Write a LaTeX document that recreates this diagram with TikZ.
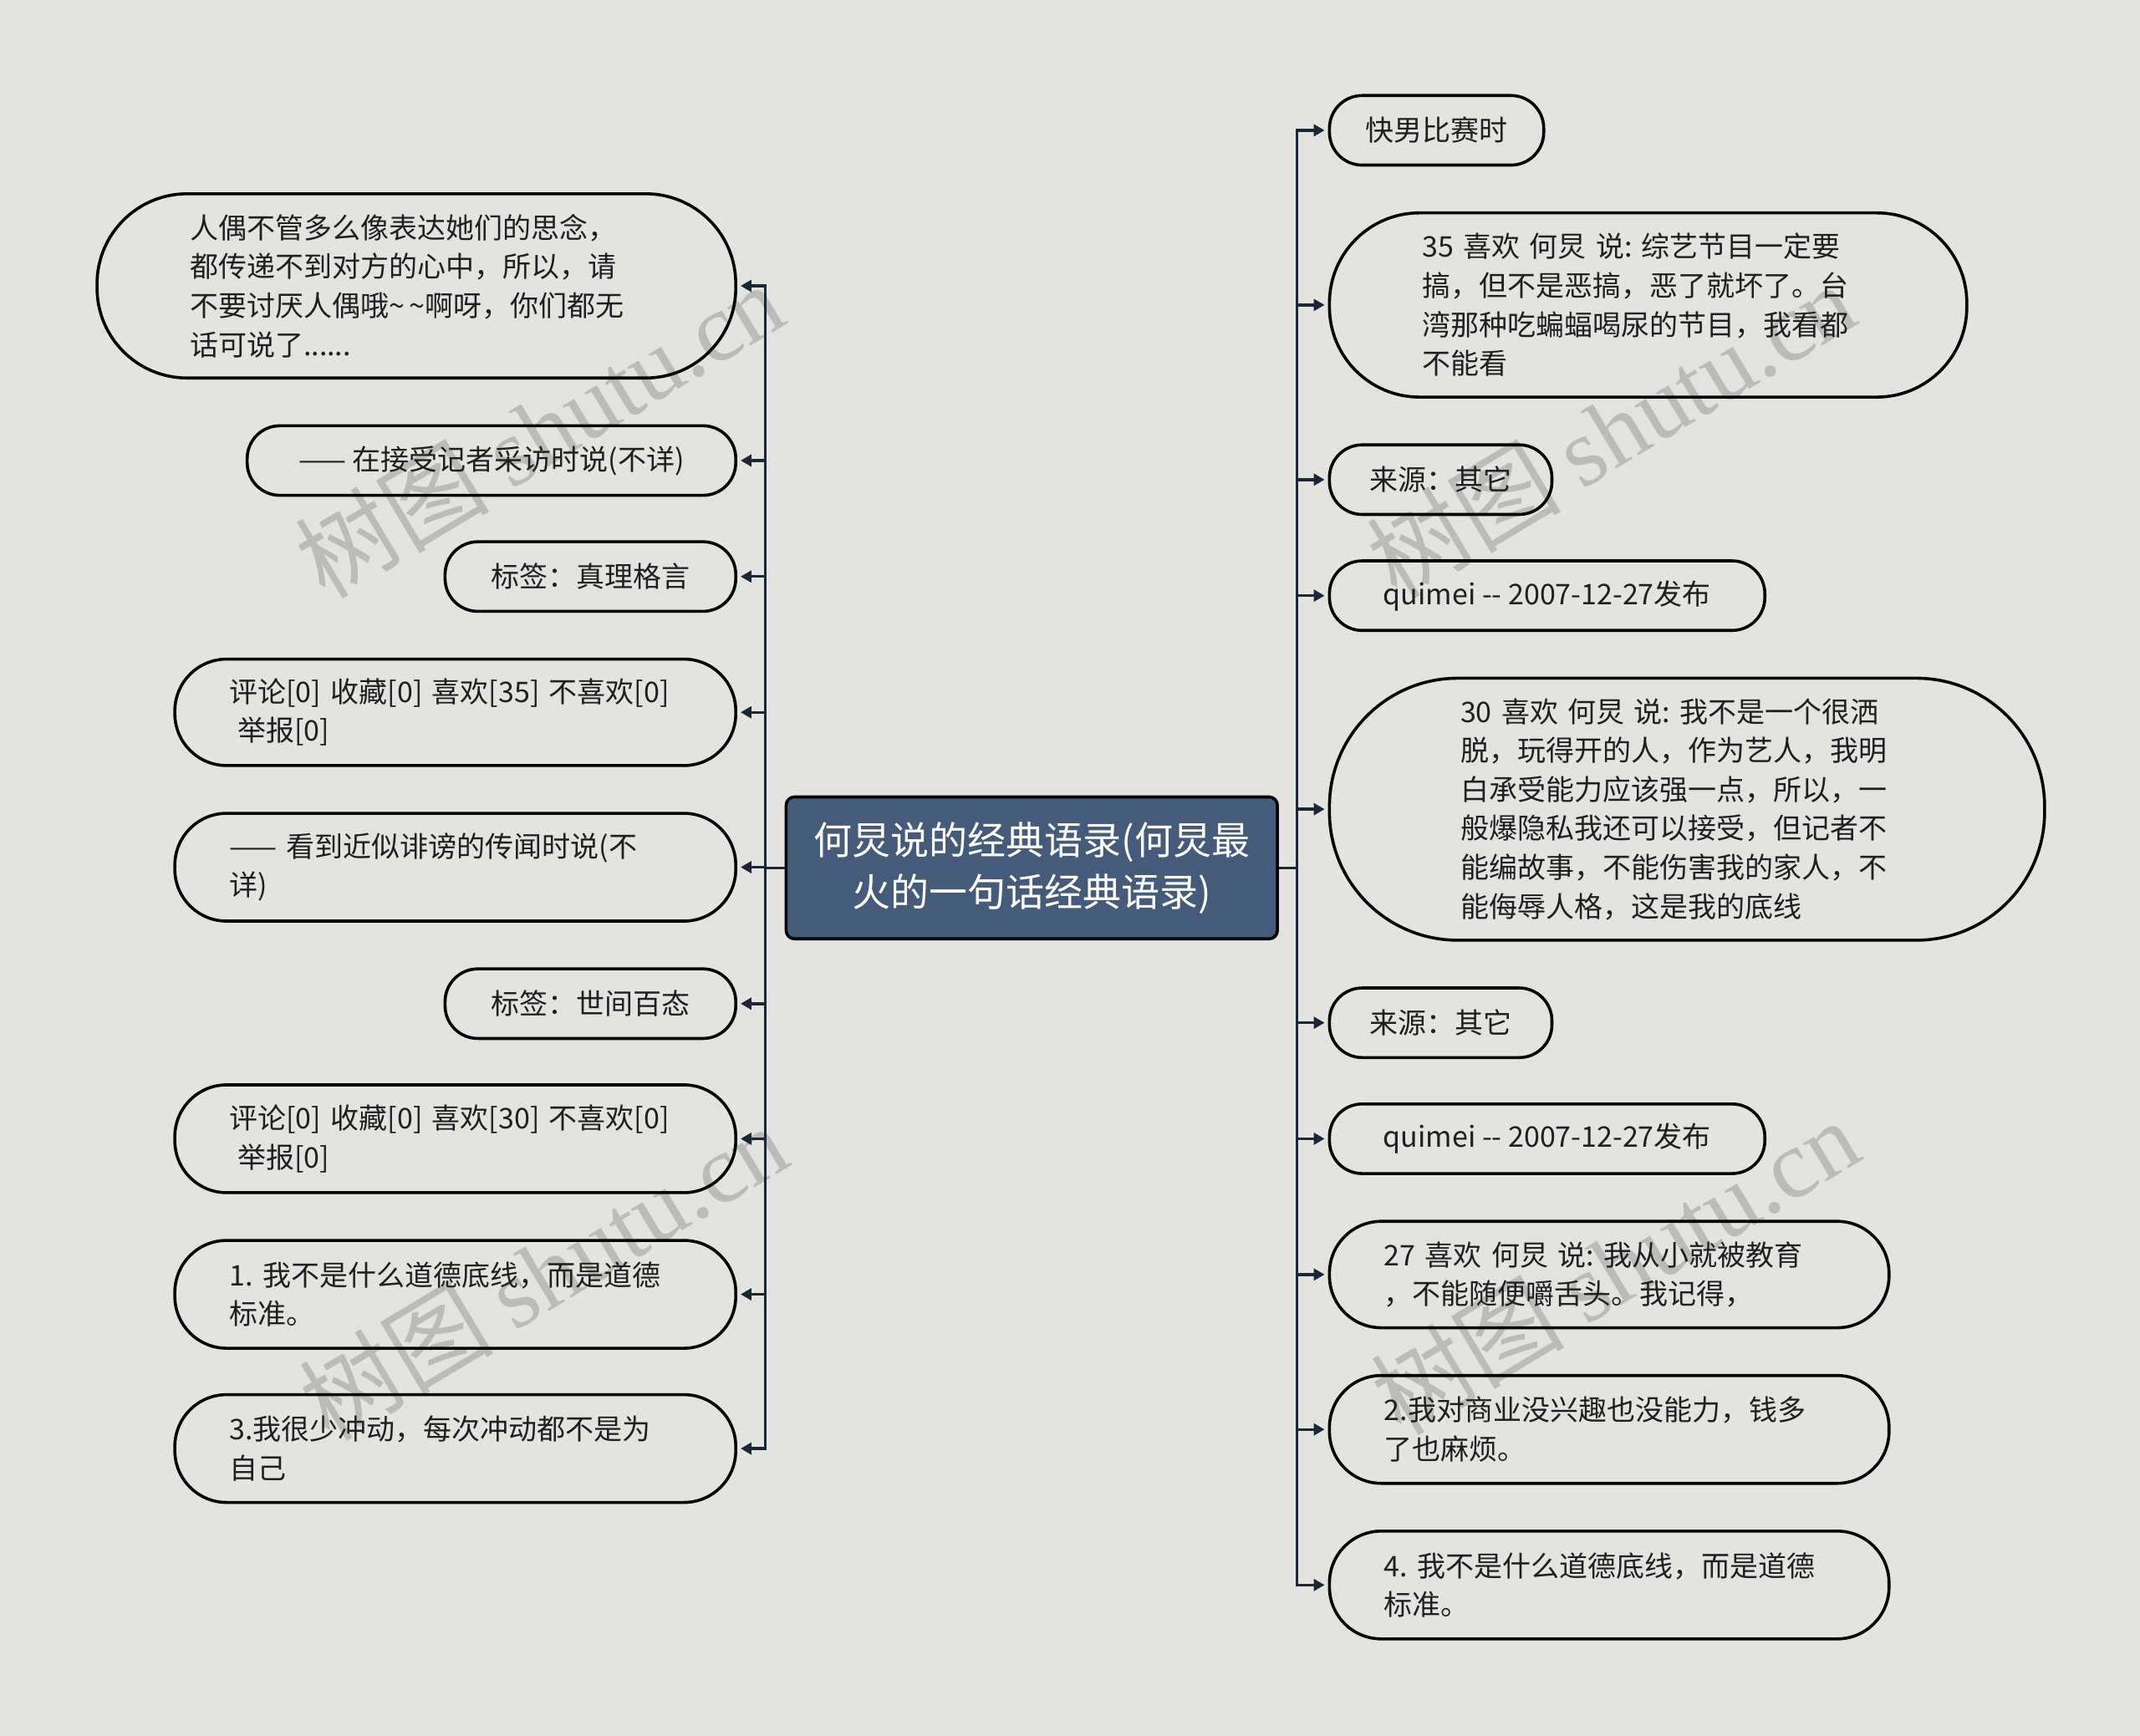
\documentclass[tikz,border=0pt]{standalone}
\usepackage{fontspec}
\setmainfont{Noto Sans CJK SC}
\newfontfamily\wmlatin{Liberation Serif}
\newfontfamily\wmcjk{Noto Sans CJK SC}
\usetikzlibrary{arrows.meta}
\newdimen\pxu \pxu=0.8163pt
\newcommand\bubfont{\fontsize{17pt}{23.3pt}\selectfont}
\newcommand\cenfont{\fontsize{23pt}{31pt}\selectfont}
\definecolor{bgc}{HTML}{E3E3DF}
\definecolor{cenfill}{HTML}{455B7A}
\definecolor{connc}{HTML}{1B2636}
\definecolor{wmc}{HTML}{BBBBB7}
\tikzset{
  bub/.style={draw=black, line width=1.8pt, inner ysep=0pt, align=left, font=\bubfont, text=black!88, anchor=west},
  bubone/.style={bub, inner xsep=0pt, align=center},
  conn/.style={draw=connc, line width=1.7pt, -{Triangle[length=6.5pt,width=7pt]}, shorten >=2pt},
  wm/.style={text=wmc, rotate=31, font=\fontsize{58pt}{60pt}\selectfont, inner sep=0pt}
}
\begin{document}
\begin{tikzpicture}[x=0.8163pt,y=-0.8163pt]
\fill[bgc] (0,0) rectangle (1568,1272);
\useasboundingbox (0,0) rectangle (1568,1272);

% watermarks
\node[wm] (w1) at (395,315) {\wmcjk 树图 \wmlatin shutu.cn};
\node[wm] (w2) at (1180,315) {\wmcjk 树图 \wmlatin shutu.cn};
\node[wm] (w3) at (398,932) {\wmcjk 树图 \wmlatin shutu.cn};
\node[wm] (w4) at (1183,928) {\wmcjk 树图 \wmlatin shutu.cn};

% centre
\node[draw=black, line width=1.8pt, fill=cenfill, rounded corners=5pt,
      minimum width=360\pxu, minimum height=104\pxu, text=white, align=center,
      font=\cenfont, inner sep=0pt] (c) at (756,636)
      {何炅说的经典语录(何炅最\\火的一句话经典语录)};

% left nodes
\node[bub, text width=332\pxu, inner xsep=68\pxu, minimum height=135\pxu, rounded corners=66\pxu] (L1) at (70,209.5)
  {人偶不管多么像表达她们的思念，\\都传递不到对方的心中，所以，请\\不要讨厌人偶哦\textasciitilde\,\textasciitilde 啊呀，你们都无\\话可说了......};
\node[bubone, minimum width=358\pxu, minimum height=51\pxu, rounded corners=24\pxu] (L2) at (180,337.5)
  {—— 在接受记者采访时说(不详)};
\node[bubone, minimum width=213\pxu, minimum height=51\pxu, rounded corners=24\pxu] (L3) at (325,422.5)
  {标签：真理格言};
\node[bub, text width=331\pxu, inner xsep=40\pxu, minimum height=78\pxu, rounded corners=38\pxu] (L4) at (127,522)
  {评论[0]~收藏[0]~喜欢[35]~不喜欢[0]\\\hspace*{5pt}举报[0]};
\node[bub, text width=331\pxu, inner xsep=40\pxu, minimum height=79\pxu, rounded corners=38\pxu] (L5) at (127,635.5)
  {——~看到近似诽谤的传闻时说(不\\详)};
\node[bubone, minimum width=213\pxu, minimum height=51\pxu, rounded corners=24\pxu] (L6) at (325,735.5)
  {标签：世间百态};
\node[bub, text width=331\pxu, inner xsep=40\pxu, minimum height=79\pxu, rounded corners=38\pxu] (L7) at (127,834.5)
  {评论[0]~收藏[0]~喜欢[30]~不喜欢[0]\\\hspace*{5pt}举报[0]};
\node[bub, text width=331\pxu, inner xsep=40\pxu, minimum height=79\pxu, rounded corners=38\pxu] (L8) at (127,948.5)
  {1.~我不是什么道德底线，而是道德\\标准。};
\node[bub, text width=331\pxu, inner xsep=40\pxu, minimum height=79\pxu, rounded corners=38\pxu] (L9) at (127,1061.5)
  {3.我很少冲动，每次冲动都不是为\\自己};

% right nodes
\node[bubone, minimum width=157\pxu, minimum height=51\pxu, rounded corners=24\pxu] (R1) at (973,95.5)
  {快男比赛时};
\node[bub, text width=331\pxu, inner xsep=68\pxu, minimum height=135\pxu, rounded corners=66\pxu] (R2) at (973,223.5)
  {35~喜欢~何炅~说:~综艺节目一定要\\搞，但不是恶搞，恶了就坏了。台\\湾那种吃蝙蝠喝尿的节目，我看都\\不能看};
\node[bubone, minimum width=163\pxu, minimum height=51\pxu, rounded corners=24\pxu] (R3) at (973,351.5)
  {来源：其它};
\node[bubone, minimum width=319\pxu, minimum height=51\pxu, rounded corners=24\pxu] (R4) at (973,436.5)
  {quimei -\kern0pt- 2007-12-27发布};
\node[bub, text width=332\pxu, inner xsep=96\pxu, minimum height=192\pxu, rounded corners=94\pxu] (R5) at (973,593)
  {30~喜欢~何炅~说:~我不是一个很洒\\脱，玩得开的人，作为艺人，我明\\白承受能力应该强一点，所以，一\\般爆隐私我还可以接受，但记者不\\能编故事，不能伤害我的家人，不\\能侮辱人格，这是我的底线};
\node[bubone, minimum width=163\pxu, minimum height=51\pxu, rounded corners=24\pxu] (R6) at (973,749.5)
  {来源：其它};
\node[bubone, minimum width=319\pxu, minimum height=51\pxu, rounded corners=24\pxu] (R7) at (973,834.5)
  {quimei -\kern0pt- 2007-12-27发布};
\node[bub, text width=330\pxu, inner xsep=40\pxu, minimum height=78\pxu, rounded corners=38\pxu] (R8) at (973,934)
  {27~喜欢~何炅~说:~我从小就被教育\\，不能随便嚼舌头。我记得，};
\node[bub, text width=330\pxu, inner xsep=40\pxu, minimum height=79\pxu, rounded corners=38\pxu] (R9) at (973,1047.5)
  {2.我对商业没兴趣也没能力，钱多\\了也麻烦。};
\node[bub, text width=330\pxu, inner xsep=40\pxu, minimum height=79\pxu, rounded corners=38\pxu] (R10) at (973,1161.5)
  {4.~我不是什么道德底线，而是道德\\标准。};

% connectors
\foreach \n in {L1,L2,L3,L4,L5,L6,L7,L8,L9}
  \draw[conn] (c.west) -- ++(-14,0) |- (\n.east);
\foreach \n in {R1,R2,R3,R4,R5,R6,R7,R8,R9,R10}
  \draw[conn] (c.east) -- ++(13,0) |- (\n.west);
\end{tikzpicture}
\end{document}
